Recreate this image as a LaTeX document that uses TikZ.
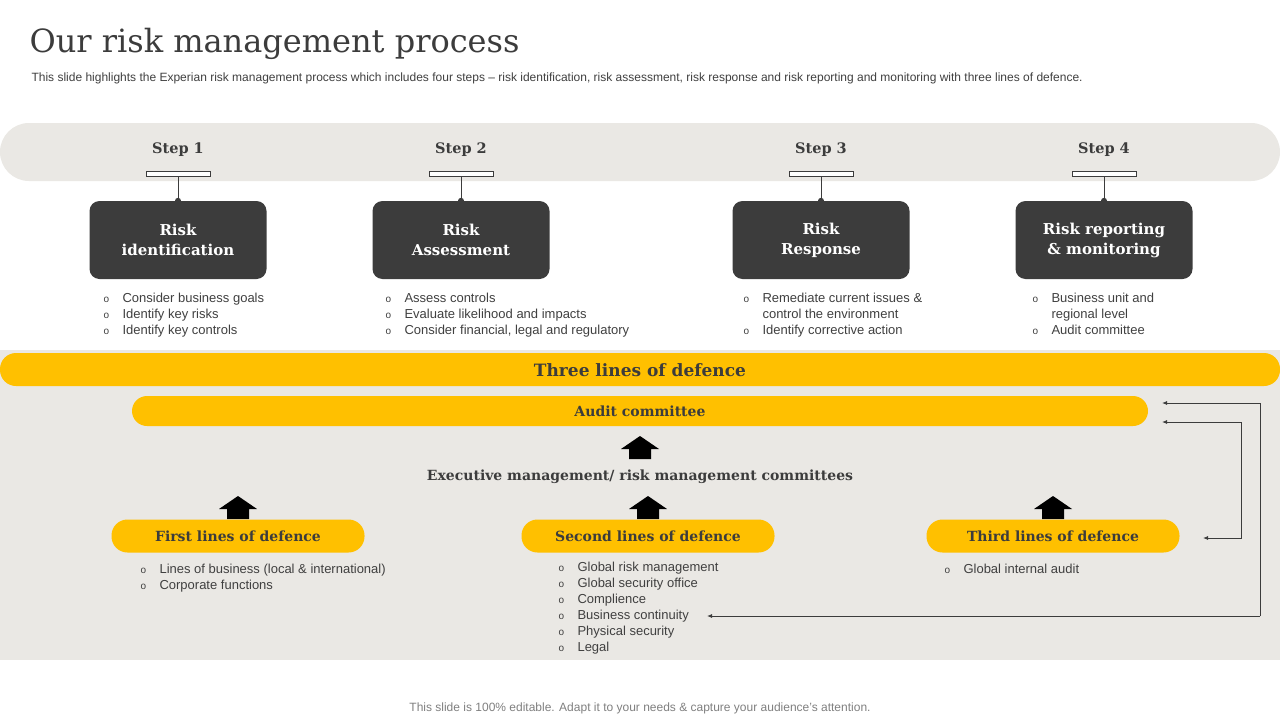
\documentclass[tikz,border=0pt]{standalone}
\usepackage{fontspec}
\setmainfont{Liberation Sans}
\newfontfamily\serf{DejaVu Serif}
\usetikzlibrary{arrows.meta}
\definecolor{band}{HTML}{EAE8E4}
\definecolor{dark}{HTML}{3C3C3C}
\definecolor{gold}{HTML}{FFC000}
\definecolor{txt}{HTML}{404040}
\tikzset{x=1pt,y=-1pt,
 stepl/.style={font=\serf\bfseries\fontsize{14.5}{18}\selectfont,text=dark},
 darkbox/.style={fill=dark,rounded corners=10pt,minimum width=177pt,minimum height=78pt,text=white,align=center,font=\serf\bfseries\fontsize{15}{20}\selectfont},
 pill/.style={fill=gold,rounded corners=16pt,minimum width=253pt,minimum height=33pt,font=\serf\bfseries\fontsize{14}{18}\selectfont,text=dark},
 blist/.style={anchor=north west,align=left,font=\fontsize{13}{16}\selectfont,text=txt},
 conn/.style={draw=dark,line width=0.8pt,-{Latex[length=5pt,width=4pt]}},
 bigup/.style={fill=black}}
\newcommand{\bul}{\makebox[19pt][l]{\fontsize{10}{10}\selectfont o}}
\newcommand{\uparr}[2]{\fill (#1-19,#2+13) -- (#1,#2) -- (#1+19,#2+13) -- (#1+11,#2+13) -- (#1+11,#2+23) -- (#1-11,#2+23) -- (#1-11,#2+13) -- cycle;}
\begin{document}
\begin{tikzpicture}
\useasboundingbox (0,0) rectangle (1280,720);
\fill[white] (0,0) rectangle (1280,720);
\node[anchor=west,font=\serf\fontsize{32}{40}\selectfont,text=dark] (title) at (26,44) {Our risk management process};
\node[anchor=west,font=\fontsize{12}{13}\selectfont,text=txt] (sub) at (28,78) {This slide highlights the Experian risk management process which includes four steps -- risk identification, risk assessment, risk response and risk reporting and monitoring with three lines of defence.};
\fill[band] (0,123) [rounded corners=29pt] rectangle (1280,181);
% steps
\foreach \n/\x/\t in {1/178/{Risk\\identification},2/461/{Risk\\Assessment},3/821/{Risk\\Response},4/1104/{Risk reporting\\\& monitoring}}{
 \node[stepl] (s\n) at (\x,150) {Step \n};
 \draw[dark,fill=white,line width=0.8pt] (\x-32,171) rectangle (\x+32,176);
 \coordinate (c\n) at (\x,176);
 \node[darkbox] (b\n) at (\x,240) {\t};
 \draw[dark,line width=0.8pt] (c\n) -- (b\n.north);
 \fill[dark] (b\n.north) circle (3pt);
}
\node[blist] (l1) at (100,290) {\bul Consider business goals\\\bul Identify key risks\\\bul Identify key controls};
\node[blist] (l2) at (382,290) {\bul Assess controls\\\bul Evaluate likelihood and impacts\\\bul Consider financial, legal and regulatory};
\node[blist] (l3) at (740,290) {\bul Remediate current issues \&\\\hspace{19pt}control the environment\\\bul Identify corrective action};
\node[blist] (l4) at (1029,290) {\bul Business unit and\\\hspace{19pt}regional level\\\bul Audit committee};
% lower
\fill[band] (0,350) rectangle (1280,660);
\fill[gold,rounded corners=16pt] (0,353) rectangle (1280,386);
\node[font=\serf\bfseries\fontsize{17}{22}\selectfont,text=dark] (three) at (640,370) {Three lines of defence};
\node[fill=gold,rounded corners=15pt,minimum width=1016pt,minimum height=30pt,font=\serf\bfseries\fontsize{14}{18}\selectfont,text=dark] (audit) at (640,411) {Audit committee};
\uparr{640}{436}
\node[font=\serf\bfseries\fontsize{14}{18}\selectfont,text=dark] (exec) at (640,477) {Executive management/ risk management committees};
\uparr{238}{496}\uparr{648}{496}\uparr{1053}{496}
\node[pill] (p1) at (238,536) {First lines of defence};
\node[pill] (p2) at (648,536) {Second lines of defence};
\node[pill] (p3) at (1053,536) {Third lines of defence};
\node[blist] (m1) at (137,561) {\bul Lines of business (local \& international)\\\bul Corporate functions};
\node[blist] (m2) at (555,559) {\bul Global risk management\\\bul Global security office\\\bul Complience\\\bul Business continuity\\\bul Physical security\\\bul Legal};
\node[blist] (m3) at (941,561) {\bul Global internal audit};
\coordinate (a1) at (1162,403);
\coordinate (a2) at (1162,422);
\coordinate (a3) at (1203,538);
\coordinate (a4) at (707,616);
\coordinate (o1) at (1260,403);
\coordinate (o2) at (1260,616);
\coordinate (i1) at (1241,422);
\coordinate (i2) at (1241,538);
\draw[conn] (o2) -- (o1) -- (a1);
\draw[conn] (o2) -- (a4);
\draw[conn] (i1) -- (a2);
\draw[conn] (i1) -- (i2) -- (a3);
\node[font=\fontsize{12}{13}\selectfont,text=gray] (foot) at (640,708) {This slide is 100\% editable. Adapt it to your needs \& capture your audience's attention.};
\end{tikzpicture}
\end{document}
